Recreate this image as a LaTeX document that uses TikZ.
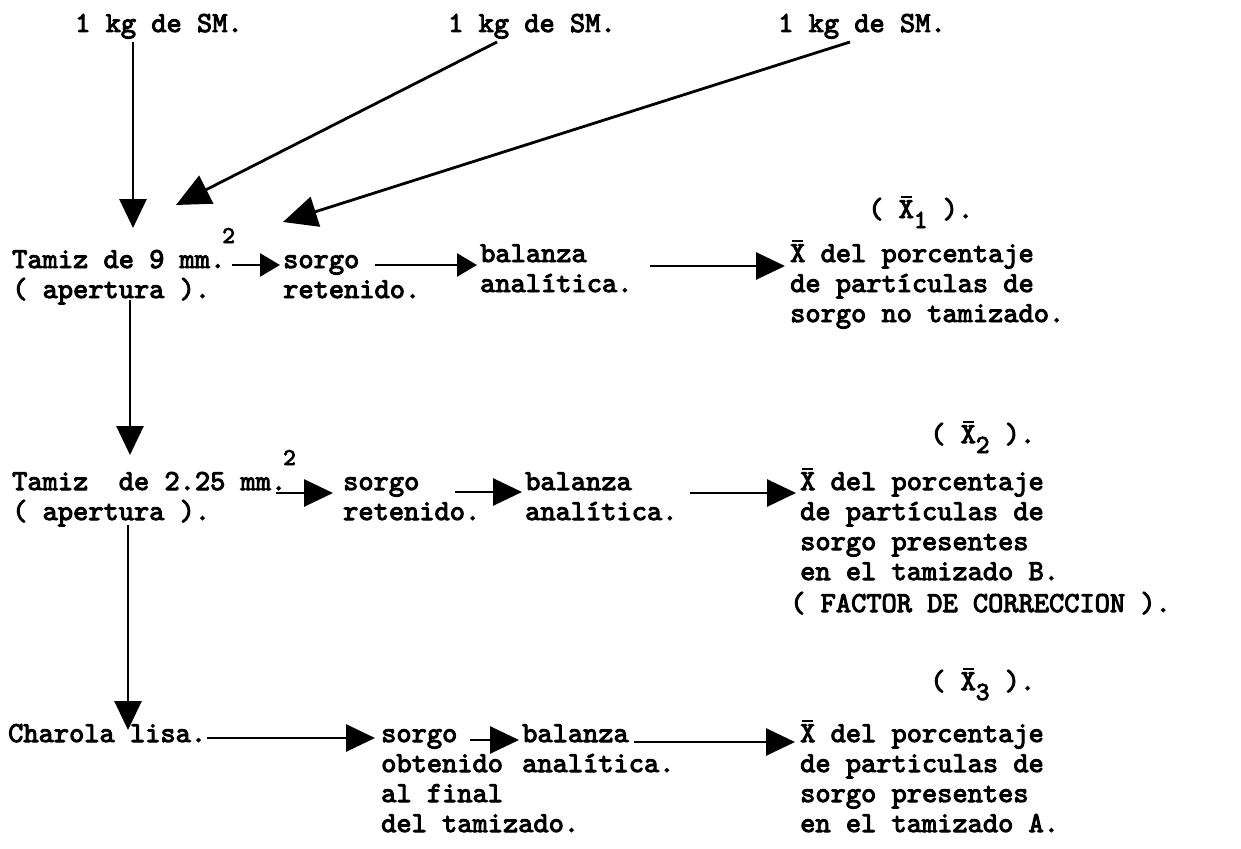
\documentclass[tikz,border=0pt]{standalone}
\usepackage{fontspec}
\newfontfamily\twfont{lmmono10-regular.otf}[FakeBold=3.4]
\usetikzlibrary{arrows.meta}
\frenchspacing
\newcommand{\xbar}{\ooalign{X\cr\hidewidth\raisebox{20pt}{\rule{11pt}{2.4pt}}\hidewidth\cr}}
\newcommand{\sqr}{\rlap{\kern-3pt\raisebox{25pt}{\fontsize{24}{24}\selectfont 2}}}
\newcommand{\subsc}[1]{\raisebox{-10pt}{\fontsize{26}{26}\selectfont #1}}
\newcommand{\lns}[1]{\begin{tabular}[t]{@{}l@{}}#1\end{tabular}}
\begin{document}
\begin{tikzpicture}[x=1pt,y=-1pt,
  txt/.style={anchor=base west,inner sep=0pt,font=\fontsize{29}{30}\selectfont\twfont},
  arr/.style={line width=2.8pt,-{Triangle[length=29pt,width=27pt]}},
  arrb/.style={line width=2.8pt,-{Triangle[length=34pt,width=31pt]}},
  arrs/.style={line width=2.6pt,-{Triangle[length=20pt,width=23pt]}}]
\useasboundingbox[fill=white] (0,0) rectangle (1241,848);

% sources
\node[txt] (src1) at (75,32) {1 kg de SM.};
\node[txt] (src2) at (448,32) {1 kg de SM.};
\node[txt] (src3) at (778,32) {1 kg de SM.};

% row 1
\node[txt] (tz1) at (12,268) {\lns{Tamiz de 9 mm.\sqr\\( apertura ).}};
\node[txt] (so1) at (283,268) {\lns{sorgo\\retenido.}};
\node[txt] (ba1) at (480,262) {\lns{balanza\\analítica.}};
\node[txt] (re1) at (790,262) {\lns{\xbar{} del porcentaje\\de partículas de\\sorgo no tamizado.}};
\node[txt] (x1) at (868,218) {( \xbar\subsc{1} ).};

% row 2
\node[txt] (tz2) at (12,490) {\lns{Tamiz~~de 2.25 mm.\sqr\\( apertura ).}};
\node[txt] (so2) at (343,490) {\lns{sorgo\\retenido.}};
\node[txt] (ba2) at (525,490) {\lns{balanza\\analítica.}};
\node[txt] (re2) at (800,490) {\lns{\xbar{} del porcentaje\\de partículas de\\sorgo presentes\\en el tamizado B.}};
\node[txt] (fc) at (790,612) {( FACTOR DE CORRECCION ).};
\node[txt] (x2) at (930,443) {( \xbar\subsc{2} ).};

% row 3
\node[txt] (ch) at (8,742) {Charola lisa.};
\node[txt] (so3) at (381,742) {\lns{sorgo\\obtenido\\al final\\del tamizado.}};
\node[txt] (ba3) at (522,742) {\lns{balanza\\analítica.}};
\node[txt] (re3) at (800,742) {\lns{\xbar{} del porcentaje\\de particulas de\\sorgo presentes\\en el tamizado A.}};
\node[txt] (x3) at (930,690) {( \xbar\subsc{3} ).};

% vertical / diagonal arrows
\draw[arr] ([shift={(58,10)}]src1.base west) -- ([shift={(121,-40)}]tz1.base west);
\draw[arrb] ([shift={(49,10)}]src2.base west) -- ([shift={(164,-63)}]tz1.base west);
\draw[arrb] ([shift={(72,10)}]src3.base west) -- ([shift={(271,-46)}]tz1.base west);
\draw[arr] ([shift={(118,32)}]tz1.base west) -- ([shift={(118,-35)}]tz2.base west);
\draw[arr] ([shift={(116,35)}]tz2.base west) -- ([shift={(120,-12)}]ch.base west);

% row 1 arrows
\draw[arrs] ([shift={(220,-3)}]tz1.base west) -- ([shift={(-3,-3)}]so1.base west);
\draw[arrs] ([shift={(92,-3)}]so1.base west) -- ([shift={(-3,3)}]ba1.base west);
\draw[arr] ([shift={(170,4)}]ba1.base west) -- ([shift={(-5,4)}]re1.base west);

% row 2 arrows
\draw[arr] ([shift={(264,3)}]tz2.base west) -- ([shift={(-10,3)}]so2.base west);
\draw[arr] ([shift={(112,2)}]so2.base west) -- ([shift={(-3,2)}]ba2.base west);
\draw[arr] ([shift={(165,3)}]ba2.base west) -- ([shift={(-4,3)}]re2.base west);

% row 3 arrows
\draw[arr] ([shift={(199,-4)}]ch.base west) -- ([shift={(-6,-4)}]so3.base west);
\draw[arr] ([shift={(89,-2)}]so3.base west) -- ([shift={(-3,-2)}]ba3.base west);
\draw[arr] ([shift={(112,0)}]ba3.base west) -- ([shift={(-5,0)}]re3.base west);
\end{tikzpicture}
\end{document}
